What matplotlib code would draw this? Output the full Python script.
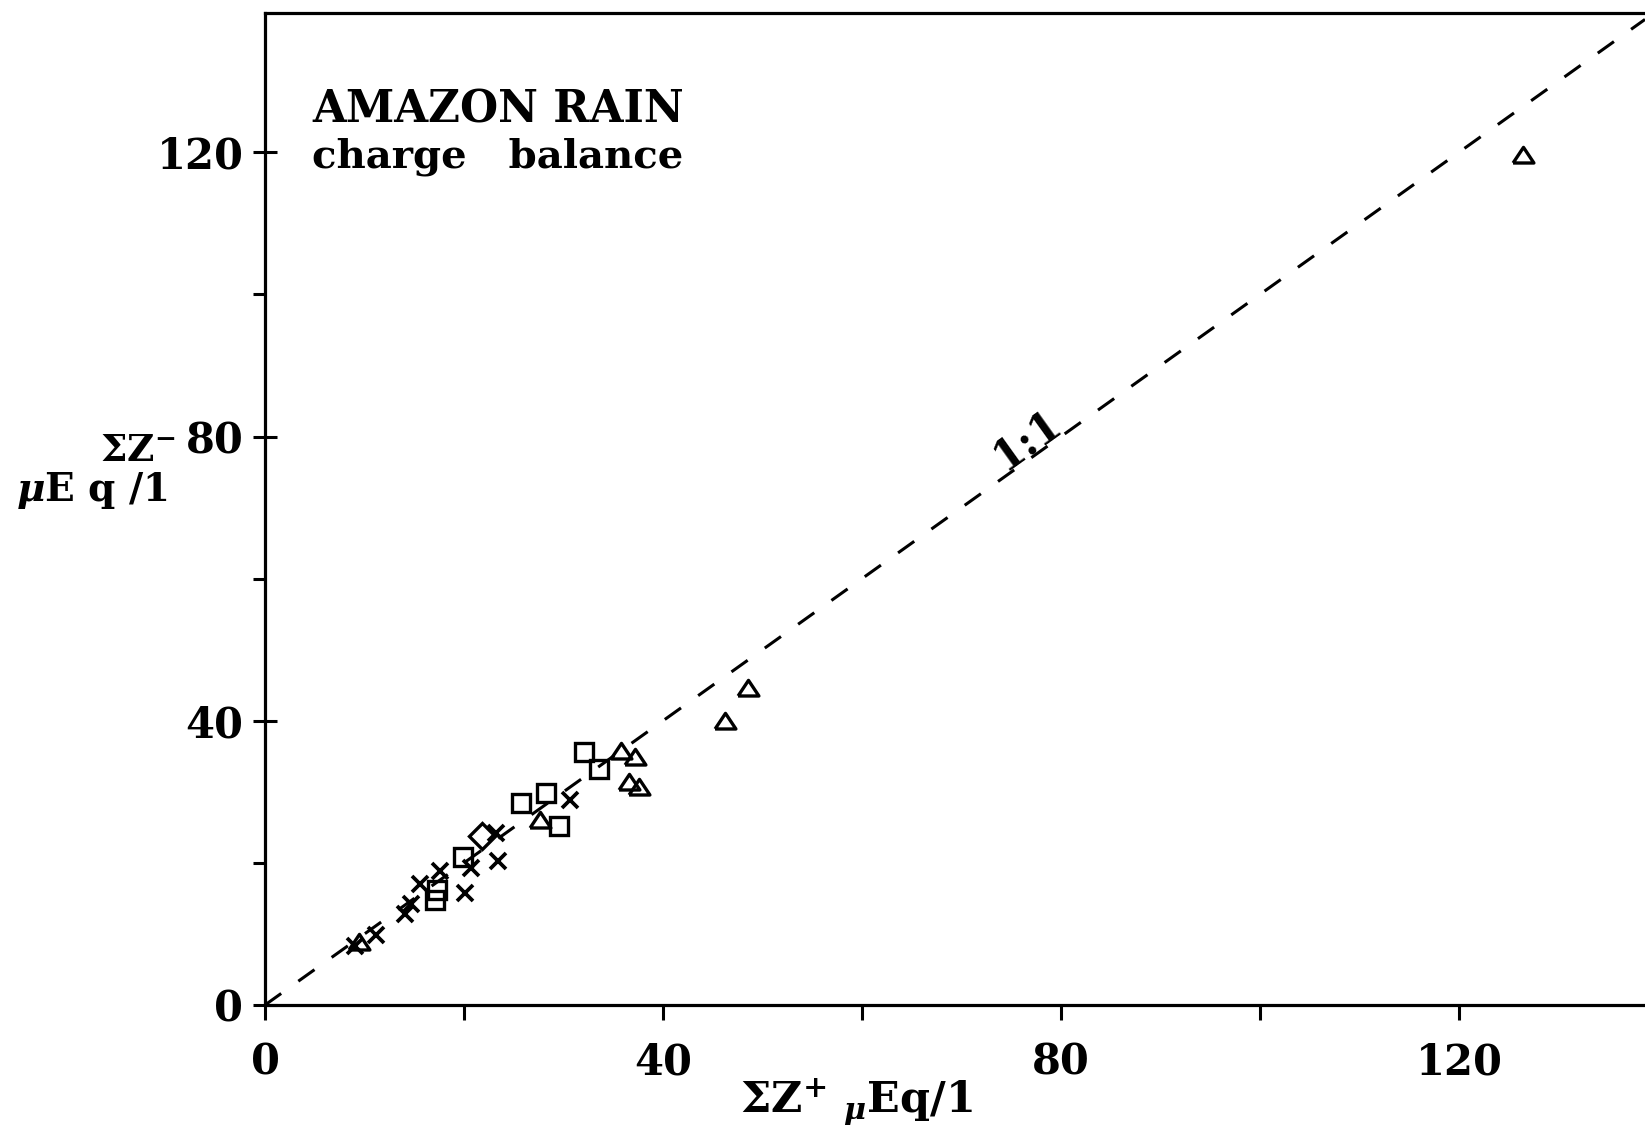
import matplotlib.pyplot as plt
from matplotlib.ticker import NullFormatter

plt.rcParams['font.family'] = 'DejaVu Serif'
plt.rcParams['font.weight'] = 'bold'
plt.rcParams['mathtext.fontset'] = 'custom'
plt.rcParams['mathtext.rm'] = 'DejaVu Serif:bold'
plt.rcParams['mathtext.bf'] = 'DejaVu Serif:bold'
plt.rcParams['mathtext.it'] = 'DejaVu Serif:italic'
plt.rcParams['mathtext.default'] = 'regular'

# Sum of cations (x) against sum of anions (y), microequivalents per litre
crossX = [9.0, 11.2, 14.1, 14.7, 15.6, 17.6, 20.1, 20.7, 23.4, 23.2, 30.7]
crossY = [8.3, 9.9, 12.8, 14.2, 17.0, 18.8, 15.7, 19.3, 20.2, 24.2, 28.8]
squareX = [17.1, 17.3, 19.9, 25.7, 28.2, 29.5, 32.1, 33.6]
squareY = [14.8, 16.2, 20.8, 28.4, 29.9, 25.2, 35.6, 33.2]
triangleX = [9.4, 27.6, 35.8, 37.2, 36.6, 37.6, 46.2, 48.5, 126.4]
triangleY = [8.9, 26.0, 35.7, 34.9, 31.4, 30.7, 40.0, 44.6, 119.6]
diamondX = [21.8]
diamondY = [23.8]

majorTicks = [0, 40, 80, 120]
minorTicks = [20, 60, 100]

# flat open triangle, wider than tall
triangle = [(-1, -0.72), (1, -0.72), (0, 0.78), (-1, -0.72)]

fig = plt.figure(figsize=(16.45, 11.31), dpi=100)
ax = fig.add_axes([0.1611, 0.1114, 0.8389, 0.8771])

ax.axline((0, 0), slope=1, color='black', lw=2.2, linestyle=(0, (6.5, 6.9)))

style = dict(linestyle='none', color='black', mfc='none', mew=2.4)
ax.plot(crossX, crossY, marker='x', ms=12, mew=2.7, linestyle='none', color='black')
ax.plot(squareX, squareY, marker='s', ms=13, **style)
ax.plot(triangleX, triangleY, marker=triangle, ms=15, **style)
ax.plot(diamondX, diamondY, marker='D', ms=13, **style)

ax.set_xlim(0, 138.7)
ax.set_ylim(0, 139.6)
ax.set_xticks(majorTicks)
ax.set_xticks(minorTicks, minor=True)
ax.set_yticks(majorTicks)
ax.set_yticks(minorTicks, minor=True)
ax.xaxis.set_minor_formatter(NullFormatter())
ax.yaxis.set_minor_formatter(NullFormatter())

ax.tick_params(axis='x', which='both', direction='out', length=11, width=2.2,
               pad=15, labelsize=30)
ax.tick_params(axis='y', which='major', direction='inout', length=17, width=2.2,
               pad=7, labelsize=30)
ax.tick_params(axis='y', which='minor', direction='out', length=9, width=2.2)

for side in ['left', 'bottom', 'top']:
    ax.spines[side].set_linewidth(2.3)
ax.spines['right'].set_visible(False)

ax.text(76.6, 79.6, '1:1', rotation=35.6, rotation_mode='anchor',
        ha='center', va='center', fontsize=30)

fig.text(312 / 1645, 1 - 122.7 / 1131, 'AMAZON RAIN', fontsize=31.5, ha='left', va='baseline')
fig.text(312 / 1645, 1 - 168 / 1131, 'charge   balance', fontsize=29, ha='left', va='baseline')

fig.text(100 / 1645, 1 - 461 / 1131, r'$\Sigma$Z$^{-}$', fontsize=27, ha='left', va='baseline')
fig.text(16 / 1645, 1 - 501 / 1131, r'$\mathit{\mu}$E q /1', fontsize=28, ha='left', va='baseline')
fig.text(740 / 1645, 1 - 1112 / 1131, r'$\Sigma$Z$^{+}$ $_{\mathit{\mu}}$Eq/1', fontsize=31,
         ha='left', va='baseline')

fig.savefig('out.png', dpi=100)
